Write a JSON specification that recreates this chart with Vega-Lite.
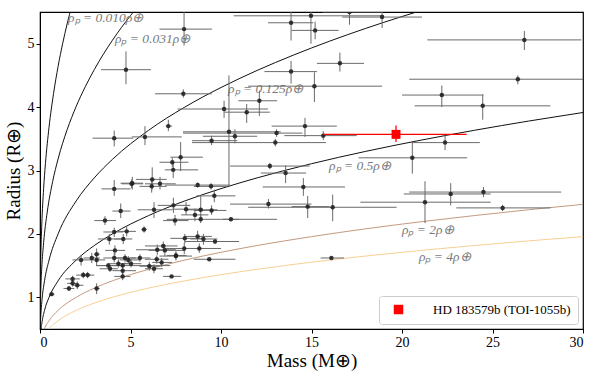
{
  "$schema": "https://vega.github.io/schema/vega-lite/v6.json",
  "width": 543,
  "height": 317,
  "autosize": {"type": "none"},
  "padding": {"left": 40, "top": 12, "right": 17, "bottom": 46},
  "background": "white",
  "config": {
    "view": {"stroke": "black", "strokeWidth": 1.2},
    "axis": {
      "labelFont": "Liberation Serif", "labelFontSize": 14, "labelColor": "black",
      "titleFont": "Liberation Serif", "titleFontSize": 19, "titleFontWeight": "normal", "titleColor": "black",
      "domainColor": "black", "tickColor": "black", "tickSize": 4, "grid": false, "labelPadding": 2
    }
  },
  "datasets": {
    "planets": [
      {"M":7.96,"R":5.23,"Ml":6.6,"Mh":9.5,"Rl":4.97,"Rh":5.6},
      {"M":13.87,"R":5.33,"Ml":12.6,"Mh":15.1,"Rl":5.05,"Rh":5.6},
      {"M":14.97,"R":5.44,"Ml":10.7,"Mh":19.0,"Rl":5.0,"Rh":5.6},
      {"M":15.2,"R":5.21,"Ml":13.9,"Mh":16.5,"Rl":5.07,"Rh":5.35},
      {"M":17.1,"R":5.5,"Ml":15.6,"Mh":18.9,"Rl":5.3,"Rh":5.7},
      {"M":18.9,"R":5.42,"Ml":16.7,"Mh":21.1,"Rl":5.25,"Rh":5.6},
      {"M":26.76,"R":5.06,"Ml":21.4,"Mh":29.9,"Rl":4.9,"Rh":5.2},
      {"M":16.57,"R":4.69,"Ml":15.3,"Mh":17.9,"Rl":4.56,"Rh":4.86},
      {"M":15.16,"R":4.33,"Ml":11.5,"Mh":18.9,"Rl":4.08,"Rh":4.55},
      {"M":13.87,"R":4.56,"Ml":12.4,"Mh":15.3,"Rl":4.37,"Rh":4.73},
      {"M":26.4,"R":4.44,"Ml":20.4,"Mh":30.0,"Rl":4.36,"Rh":4.5},
      {"M":22.2,"R":4.19,"Ml":20.0,"Mh":24.5,"Rl":4.0,"Rh":4.34},
      {"M":24.46,"R":4.02,"Ml":20.7,"Mh":28.2,"Rl":3.8,"Rh":4.2},
      {"M":14.64,"R":3.7,"Ml":12.8,"Mh":16.4,"Rl":3.53,"Rh":3.83},
      {"M":15.65,"R":3.55,"Ml":13.5,"Mh":17.5,"Rl":3.48,"Rh":3.62},
      {"M":13.07,"R":3.59,"Ml":7.9,"Mh":14.5,"Rl":3.53,"Rh":3.65},
      {"M":13.0,"R":3.44,"Ml":8.4,"Mh":15.8,"Rl":3.38,"Rh":3.5},
      {"M":10.44,"R":3.61,"Ml":7.9,"Mh":13.3,"Rl":2.76,"Rh":4.5},
      {"M":10.77,"R":3.54,"Ml":9.0,"Mh":12.0,"Rl":3.43,"Rh":3.65},
      {"M":9.48,"R":3.47,"Ml":8.4,"Mh":10.9,"Rl":3.4,"Rh":3.55},
      {"M":10.17,"R":3.97,"Ml":7.6,"Mh":12.6,"Rl":3.83,"Rh":4.1},
      {"M":11.42,"R":3.92,"Ml":10.2,"Mh":12.7,"Rl":3.75,"Rh":4.05},
      {"M":12.12,"R":4.1,"Ml":10.96,"Mh":13.1,"Rl":3.86,"Rh":4.26},
      {"M":7.92,"R":4.21,"Ml":6.35,"Mh":9.49,"Rl":4.15,"Rh":4.28},
      {"M":4.75,"R":4.59,"Ml":3.37,"Mh":6.13,"Rl":4.36,"Rh":4.88},
      {"M":4.1,"R":3.51,"Ml":2.9,"Mh":5.15,"Rl":3.38,"Rh":3.63},
      {"M":5.8,"R":3.53,"Ml":5.07,"Mh":7.83,"Rl":3.4,"Rh":3.7},
      {"M":7.09,"R":3.7,"Ml":6.95,"Mh":7.3,"Rl":3.62,"Rh":3.8},
      {"M":7.77,"R":3.21,"Ml":7.2,"Mh":9.0,"Rl":2.99,"Rh":3.45},
      {"M":7.31,"R":3.13,"Ml":6.6,"Mh":8.2,"Rl":3.05,"Rh":3.2},
      {"M":7.36,"R":3.01,"Ml":6.9,"Mh":8.74,"Rl":2.88,"Rh":3.13},
      {"M":5.1,"R":2.8,"Ml":4.45,"Mh":5.7,"Rl":2.7,"Rh":2.9},
      {"M":6.2,"R":2.86,"Ml":5.3,"Mh":7.0,"Rl":2.7,"Rh":3.05},
      {"M":6.17,"R":2.75,"Ml":5.5,"Mh":7.0,"Rl":2.65,"Rh":2.85},
      {"M":6.63,"R":2.79,"Ml":5.8,"Mh":7.5,"Rl":2.7,"Rh":2.9},
      {"M":8.71,"R":2.77,"Ml":6.9,"Mh":10.5,"Rl":2.73,"Rh":2.81},
      {"M":9.45,"R":2.75,"Ml":8.5,"Mh":10.3,"Rl":2.7,"Rh":2.8},
      {"M":12.7,"R":3.07,"Ml":10.5,"Mh":14.9,"Rl":3.02,"Rh":3.12},
      {"M":13.57,"R":2.96,"Ml":12.2,"Mh":14.7,"Rl":2.8,"Rh":3.08},
      {"M":14.55,"R":2.74,"Ml":12.3,"Mh":16.85,"Rl":2.6,"Rh":2.88},
      {"M":12.62,"R":2.47,"Ml":10.5,"Mh":15.0,"Rl":2.4,"Rh":2.55},
      {"M":14.79,"R":2.43,"Ml":13.9,"Mh":16.0,"Rl":2.25,"Rh":2.6},
      {"M":16.17,"R":2.42,"Ml":11.5,"Mh":19.7,"Rl":2.2,"Rh":2.62},
      {"M":20.57,"R":3.2,"Ml":17.6,"Mh":23.6,"Rl":2.95,"Rh":3.45},
      {"M":22.38,"R":3.44,"Ml":20.5,"Mh":24.3,"Rl":3.32,"Rh":3.56},
      {"M":21.27,"R":2.5,"Ml":17.7,"Mh":24.9,"Rl":2.17,"Rh":2.83},
      {"M":22.69,"R":2.63,"Ml":20.1,"Mh":24.9,"Rl":2.45,"Rh":2.8},
      {"M":24.5,"R":2.66,"Ml":20.4,"Mh":28.8,"Rl":2.58,"Rh":2.74},
      {"M":25.56,"R":2.41,"Ml":23.0,"Mh":28.2,"Rl":2.36,"Rh":2.46},
      {"M":16.1,"R":1.62,"Ml":15.5,"Mh":16.8,"Rl":1.6,"Rh":1.64},
      {"M":9.63,"R":2.6,"Ml":8.65,"Mh":10.8,"Rl":2.5,"Rh":2.7},
      {"M":6.3,"R":2.38,"Ml":5.4,"Mh":7.3,"Rl":2.25,"Rh":2.5},
      {"M":7.37,"R":2.45,"Ml":6.5,"Mh":8.3,"Rl":2.33,"Rh":2.57},
      {"M":8.07,"R":2.39,"Ml":7.3,"Mh":9.0,"Rl":2.3,"Rh":2.5},
      {"M":8.56,"R":2.3,"Ml":7.8,"Mh":9.3,"Rl":2.2,"Rh":2.4},
      {"M":8.88,"R":2.38,"Ml":8.0,"Mh":9.8,"Rl":2.2,"Rh":2.6},
      {"M":9.48,"R":2.37,"Ml":8.5,"Mh":10.3,"Rl":2.3,"Rh":2.45},
      {"M":7.46,"R":2.21,"Ml":6.8,"Mh":8.2,"Rl":2.13,"Rh":2.3},
      {"M":8.88,"R":2.23,"Ml":7.0,"Mh":13.1,"Rl":2.17,"Rh":2.3},
      {"M":10.55,"R":2.23,"Ml":10.1,"Mh":11.0,"Rl":2.2,"Rh":2.26},
      {"M":8.0,"R":1.93,"Ml":7.2,"Mh":9.0,"Rl":1.85,"Rh":2.0},
      {"M":8.71,"R":1.96,"Ml":8.0,"Mh":9.5,"Rl":1.88,"Rh":2.05},
      {"M":9.03,"R":1.92,"Ml":8.3,"Mh":9.8,"Rl":1.83,"Rh":2.0},
      {"M":9.67,"R":1.88,"Ml":8.0,"Mh":11.0,"Rl":1.84,"Rh":1.92},
      {"M":7.97,"R":1.77,"Ml":6.8,"Mh":9.2,"Rl":1.68,"Rh":1.86},
      {"M":8.8,"R":1.77,"Ml":7.5,"Mh":10.0,"Rl":1.7,"Rh":1.85},
      {"M":6.81,"R":1.81,"Ml":5.8,"Mh":7.6,"Rl":1.74,"Rh":1.88},
      {"M":6.48,"R":1.75,"Ml":5.3,"Mh":7.5,"Rl":1.67,"Rh":1.83},
      {"M":6.9,"R":1.74,"Ml":6.0,"Mh":8.0,"Rl":1.65,"Rh":1.83},
      {"M":7.51,"R":1.65,"Ml":6.6,"Mh":8.4,"Rl":1.58,"Rh":1.72},
      {"M":0.64,"R":1.05,"Ml":0.5,"Mh":0.8,"Rl":1.02,"Rh":1.08},
      {"M":1.6,"R":1.14,"Ml":1.3,"Mh":1.9,"Rl":1.1,"Rh":1.18},
      {"M":1.8,"R":1.29,"Ml":1.4,"Mh":2.2,"Rl":1.24,"Rh":1.34},
      {"M":2.06,"R":1.19,"Ml":1.8,"Mh":2.4,"Rl":1.13,"Rh":1.25},
      {"M":1.8,"R":1.22,"Ml":1.5,"Mh":2.1,"Rl":1.17,"Rh":1.27},
      {"M":2.39,"R":1.35,"Ml":2.0,"Mh":2.8,"Rl":1.3,"Rh":1.4},
      {"M":2.63,"R":1.35,"Ml":2.3,"Mh":3.0,"Rl":1.3,"Rh":1.4},
      {"M":3.13,"R":1.14,"Ml":3.0,"Mh":3.3,"Rl":1.05,"Rh":1.22},
      {"M":2.27,"R":1.59,"Ml":1.8,"Mh":2.7,"Rl":1.5,"Rh":1.66},
      {"M":2.86,"R":1.62,"Ml":2.4,"Mh":3.3,"Rl":1.54,"Rh":1.7},
      {"M":3.13,"R":1.68,"Ml":3.0,"Mh":3.3,"Rl":1.6,"Rh":1.77},
      {"M":3.13,"R":1.59,"Ml":2.7,"Mh":3.6,"Rl":1.5,"Rh":1.66},
      {"M":3.77,"R":1.5,"Ml":3.1,"Mh":4.5,"Rl":1.46,"Rh":1.54},
      {"M":3.87,"R":1.45,"Ml":3.3,"Mh":4.3,"Rl":1.4,"Rh":1.5},
      {"M":4.1,"R":1.62,"Ml":3.5,"Mh":4.8,"Rl":1.55,"Rh":1.7},
      {"M":4.14,"R":1.74,"Ml":3.6,"Mh":4.7,"Rl":1.66,"Rh":1.82},
      {"M":4.33,"R":1.53,"Ml":3.8,"Mh":4.9,"Rl":1.47,"Rh":1.6},
      {"M":4.57,"R":1.5,"Ml":3.1,"Mh":7.2,"Rl":1.47,"Rh":1.53},
      {"M":4.57,"R":1.42,"Ml":4.0,"Mh":5.3,"Rl":1.35,"Rh":1.5},
      {"M":4.57,"R":1.33,"Ml":4.1,"Mh":5.0,"Rl":1.27,"Rh":1.4},
      {"M":4.7,"R":1.62,"Ml":4.2,"Mh":5.3,"Rl":1.55,"Rh":1.68},
      {"M":4.88,"R":1.59,"Ml":4.4,"Mh":5.5,"Rl":1.53,"Rh":1.65},
      {"M":5.03,"R":1.53,"Ml":4.5,"Mh":5.6,"Rl":1.47,"Rh":1.6},
      {"M":5.52,"R":1.62,"Ml":5.0,"Mh":6.1,"Rl":1.56,"Rh":1.68},
      {"M":6.04,"R":1.49,"Ml":5.5,"Mh":6.6,"Rl":1.42,"Rh":1.56},
      {"M":6.3,"R":1.45,"Ml":5.8,"Mh":6.8,"Rl":1.38,"Rh":1.52},
      {"M":6.45,"R":1.6,"Ml":5.8,"Mh":7.1,"Rl":1.53,"Rh":1.66},
      {"M":6.72,"R":1.55,"Ml":6.2,"Mh":7.3,"Rl":1.48,"Rh":1.62},
      {"M":7.27,"R":1.33,"Ml":6.8,"Mh":7.8,"Rl":1.31,"Rh":1.35},
      {"M":7.51,"R":1.66,"Ml":7.0,"Mh":8.1,"Rl":1.6,"Rh":1.72},
      {"M":9.35,"R":1.6,"Ml":8.5,"Mh":10.8,"Rl":1.58,"Rh":1.62},
      {"M":3.83,"R":1.92,"Ml":3.2,"Mh":4.5,"Rl":1.83,"Rh":2.0},
      {"M":4.1,"R":2.03,"Ml":3.5,"Mh":4.6,"Rl":1.95,"Rh":2.1},
      {"M":4.6,"R":1.92,"Ml":4.1,"Mh":5.1,"Rl":1.84,"Rh":2.0},
      {"M":4.79,"R":2.04,"Ml":4.3,"Mh":5.3,"Rl":1.96,"Rh":2.12},
      {"M":5.75,"R":2.07,"Ml":5.6,"Mh":5.9,"Rl":2.02,"Rh":2.12},
      {"M":3.59,"R":2.21,"Ml":3.0,"Mh":4.2,"Rl":2.14,"Rh":2.28},
      {"M":4.46,"R":2.36,"Ml":4.0,"Mh":5.0,"Rl":2.25,"Rh":2.48},
      {"M":4.1,"R":2.71,"Ml":3.4,"Mh":5.0,"Rl":2.6,"Rh":2.85},
      {"M":5.06,"R":2.79,"Ml":4.5,"Mh":5.7,"Rl":2.72,"Rh":2.86}
    ],
    "curves": [
      {"rho":"0.010","M":0.0001,"R":0.215},{"rho":"0.010","M":0.002,"R":0.585},{"rho":"0.010","M":0.005,"R":0.794},{"rho":"0.010","M":0.01,"R":1.0},{"rho":"0.010","M":0.02,"R":1.26},{"rho":"0.010","M":0.05,"R":1.71},{"rho":"0.010","M":0.1,"R":2.154},{"rho":"0.010","M":0.2,"R":2.714},{"rho":"0.010","M":0.3,"R":3.107},{"rho":"0.010","M":0.5,"R":3.684},{"rho":"0.010","M":0.75,"R":4.217},{"rho":"0.010","M":1.0,"R":4.642},{"rho":"0.010","M":1.25,"R":5.0},{"rho":"0.010","M":1.5,"R":5.313},{"rho":"0.010","M":1.75,"R":5.593},{"rho":"0.010","M":2.0,"R":5.848},
      {"rho":"0.031","M":0.0001,"R":0.148},{"rho":"0.031","M":0.004,"R":0.505},{"rho":"0.031","M":0.01,"R":0.686},{"rho":"0.031","M":0.02,"R":0.864},{"rho":"0.031","M":0.05,"R":1.173},{"rho":"0.031","M":0.1,"R":1.477},{"rho":"0.031","M":0.2,"R":1.861},{"rho":"0.031","M":0.4,"R":2.345},{"rho":"0.031","M":0.7,"R":2.827},{"rho":"0.031","M":1.0,"R":3.183},{"rho":"0.031","M":1.5,"R":3.644},{"rho":"0.031","M":2.0,"R":4.011},{"rho":"0.031","M":2.5,"R":4.321},{"rho":"0.031","M":3.0,"R":4.591},{"rho":"0.031","M":3.5,"R":4.834},{"rho":"0.031","M":4.0,"R":5.053},{"rho":"0.031","M":4.5,"R":5.256},{"rho":"0.031","M":5.0,"R":5.444},{"rho":"0.031","M":5.5,"R":5.62},
      {"rho":"0.125","M":0.001,"R":0.2},{"rho":"0.125","M":0.02,"R":0.543},{"rho":"0.125","M":0.05,"R":0.737},{"rho":"0.125","M":0.1,"R":0.928},{"rho":"0.125","M":0.25,"R":1.26},{"rho":"0.125","M":0.5,"R":1.587},{"rho":"0.125","M":1,"R":2.0},{"rho":"0.125","M":2,"R":2.52},{"rho":"0.125","M":3,"R":2.884},{"rho":"0.125","M":4,"R":3.175},{"rho":"0.125","M":6,"R":3.634},{"rho":"0.125","M":8,"R":4.0},{"rho":"0.125","M":10,"R":4.309},{"rho":"0.125","M":12,"R":4.579},{"rho":"0.125","M":14,"R":4.82},{"rho":"0.125","M":16,"R":5.04},{"rho":"0.125","M":18,"R":5.242},{"rho":"0.125","M":20,"R":5.429},{"rho":"0.125","M":22,"R":5.604},
      {"rho":"0.5","M":0.004,"R":0.2},{"rho":"0.5","M":0.07,"R":0.519},{"rho":"0.5","M":0.1,"R":0.585},{"rho":"0.5","M":0.25,"R":0.794},{"rho":"0.5","M":0.5,"R":1.0},{"rho":"0.5","M":1,"R":1.26},{"rho":"0.5","M":2,"R":1.587},{"rho":"0.5","M":3,"R":1.817},{"rho":"0.5","M":4,"R":2.0},{"rho":"0.5","M":6,"R":2.289},{"rho":"0.5","M":8,"R":2.52},{"rho":"0.5","M":10,"R":2.714},{"rho":"0.5","M":12,"R":2.884},{"rho":"0.5","M":15,"R":3.107},{"rho":"0.5","M":18,"R":3.302},{"rho":"0.5","M":21,"R":3.476},{"rho":"0.5","M":24,"R":3.634},{"rho":"0.5","M":27,"R":3.78},{"rho":"0.5","M":30,"R":3.915},
      {"rho":"2","M":0.016,"R":0.2},{"rho":"2","M":0.25,"R":0.5},{"rho":"2","M":0.5,"R":0.63},{"rho":"2","M":1,"R":0.794},{"rho":"2","M":2,"R":1.0},{"rho":"2","M":3,"R":1.145},{"rho":"2","M":4,"R":1.26},{"rho":"2","M":6,"R":1.442},{"rho":"2","M":8,"R":1.587},{"rho":"2","M":10,"R":1.71},{"rho":"2","M":12,"R":1.817},{"rho":"2","M":15,"R":1.957},{"rho":"2","M":18,"R":2.08},{"rho":"2","M":21,"R":2.19},{"rho":"2","M":24,"R":2.289},{"rho":"2","M":27,"R":2.381},{"rho":"2","M":30,"R":2.466},
      {"rho":"4","M":0.032,"R":0.2},{"rho":"4","M":0.5,"R":0.5},{"rho":"4","M":1,"R":0.63},{"rho":"4","M":2,"R":0.794},{"rho":"4","M":3,"R":0.909},{"rho":"4","M":4,"R":1.0},{"rho":"4","M":6,"R":1.145},{"rho":"4","M":8,"R":1.26},{"rho":"4","M":10,"R":1.357},{"rho":"4","M":12,"R":1.442},{"rho":"4","M":15,"R":1.554},{"rho":"4","M":18,"R":1.651},{"rho":"4","M":21,"R":1.738},{"rho":"4","M":24,"R":1.817},{"rho":"4","M":27,"R":1.89},{"rho":"4","M":30,"R":1.957}
    ],
    "labels": [
      {"t":"ρₚ = 0.010ρ⊕","M":1.55,"R":5.41},
      {"t":"ρₚ = 0.031ρ⊕","M":4.14,"R":5.07},
      {"t":"ρₚ = 0.125ρ⊕","M":10.39,"R":4.28},
      {"t":"ρₚ = 0.5ρ⊕","M":15.97,"R":3.07},
      {"t":"ρₚ = 2ρ⊕","M":20.0,"R":2.06},
      {"t":"ρₚ = 4ρ⊕","M":20.94,"R":1.64}
    ],
    "target": [
      {"name":"HD 183579b (TOI-1055b)","M":19.67,"R":3.57,"Ml":15.65,"Mh":23.57,"Rl":3.45,"Rh":3.71}
    ]
  },
  "layer": [
    {
      "data": {"name": "curves"},
      "mark": {"type": "line", "clip": true, "strokeWidth": 1, "interpolate": "monotone"},
      "encoding": {
        "x": {"field": "M", "type": "quantitative", "scale": {"domain": [0, 30], "nice": false}, "title": "Mass (M⊕)", "axis": {"values": [0,5,10,15,20,25,30], "format": "d", "titlePadding": 2}},
        "y": {"field": "R", "type": "quantitative", "scale": {"domain": [0.5, 5.5], "nice": false, "zero": false}, "title": "Radius (R⊕)", "axis": {"values": [1,2,3,4,5], "format": "d", "titlePadding": 4}},
        "detail": {"field": "rho"},
        "stroke": {"field": "rho", "type": "nominal", "legend": null,
          "scale": {"domain": ["0.010","0.031","0.125","0.5","2","4"], "range": ["#111111","#111111","#111111","#111111","#c39a7e","#f8cf94"]}}
      }
    },
    {
      "data": {"name": "labels"},
      "mark": {"type": "text", "align": "left", "baseline": "middle", "font": "Liberation Serif", "fontStyle": "italic", "fontSize": 13.5, "color": "#7a7a7a"},
      "encoding": {
        "x": {"field": "M", "type": "quantitative"},
        "y": {"field": "R", "type": "quantitative"},
        "text": {"field": "t"}
      }
    },
    {
      "data": {"name": "planets"},
      "mark": {"type": "rule", "color": "#6a6a6a", "strokeWidth": 1, "clip": true},
      "encoding": {
        "x": {"field": "Ml", "type": "quantitative"},
        "x2": {"field": "Mh"},
        "y": {"field": "R", "type": "quantitative"}
      }
    },
    {
      "data": {"name": "planets"},
      "mark": {"type": "rule", "color": "#6a6a6a", "strokeWidth": 1, "clip": true},
      "encoding": {
        "x": {"field": "M", "type": "quantitative"},
        "y": {"field": "Rl", "type": "quantitative"},
        "y2": {"field": "Rh"}
      }
    },
    {
      "data": {"name": "planets"},
      "mark": {"type": "point", "shape": "circle", "filled": true, "size": 20, "color": "#222222", "opacity": 0.9, "clip": true},
      "encoding": {
        "x": {"field": "M", "type": "quantitative"},
        "y": {"field": "R", "type": "quantitative"}
      }
    },
    {
      "data": {"name": "target"},
      "mark": {"type": "rule", "color": "#ff0000", "strokeWidth": 1.3},
      "encoding": {
        "x": {"field": "Ml", "type": "quantitative"},
        "x2": {"field": "Mh"},
        "y": {"field": "R", "type": "quantitative"}
      }
    },
    {
      "data": {"name": "target"},
      "mark": {"type": "rule", "color": "#ff0000", "strokeWidth": 1.3},
      "encoding": {
        "x": {"field": "M", "type": "quantitative"},
        "y": {"field": "Rl", "type": "quantitative"},
        "y2": {"field": "Rh"}
      }
    },
    {
      "data": {"name": "target"},
      "mark": {"type": "point", "shape": "square", "filled": true, "size": 80, "opacity": 1},
      "encoding": {
        "x": {"field": "M", "type": "quantitative"},
        "y": {"field": "R", "type": "quantitative"},
        "fill": {"field": "name", "type": "nominal", "title": null,
          "scale": {"domain": ["HD 183579b (TOI-1055b)"], "range": ["#ff0000"]},
          "legend": {"orient": "bottom-right", "offset": 5, "symbolType": "square", "symbolSize": 90, "symbolStrokeWidth": 0,
            "labelFont": "Liberation Serif", "labelFontSize": 13, "labelColor": "black", "labelLimit": 300,
            "strokeColor": "#cccccc", "fillColor": "white", "padding": 7, "cornerRadius": 3, "rowPadding": 0, "symbolOffset": 6, "labelOffset": 28}}
      }
    }
  ]
}
